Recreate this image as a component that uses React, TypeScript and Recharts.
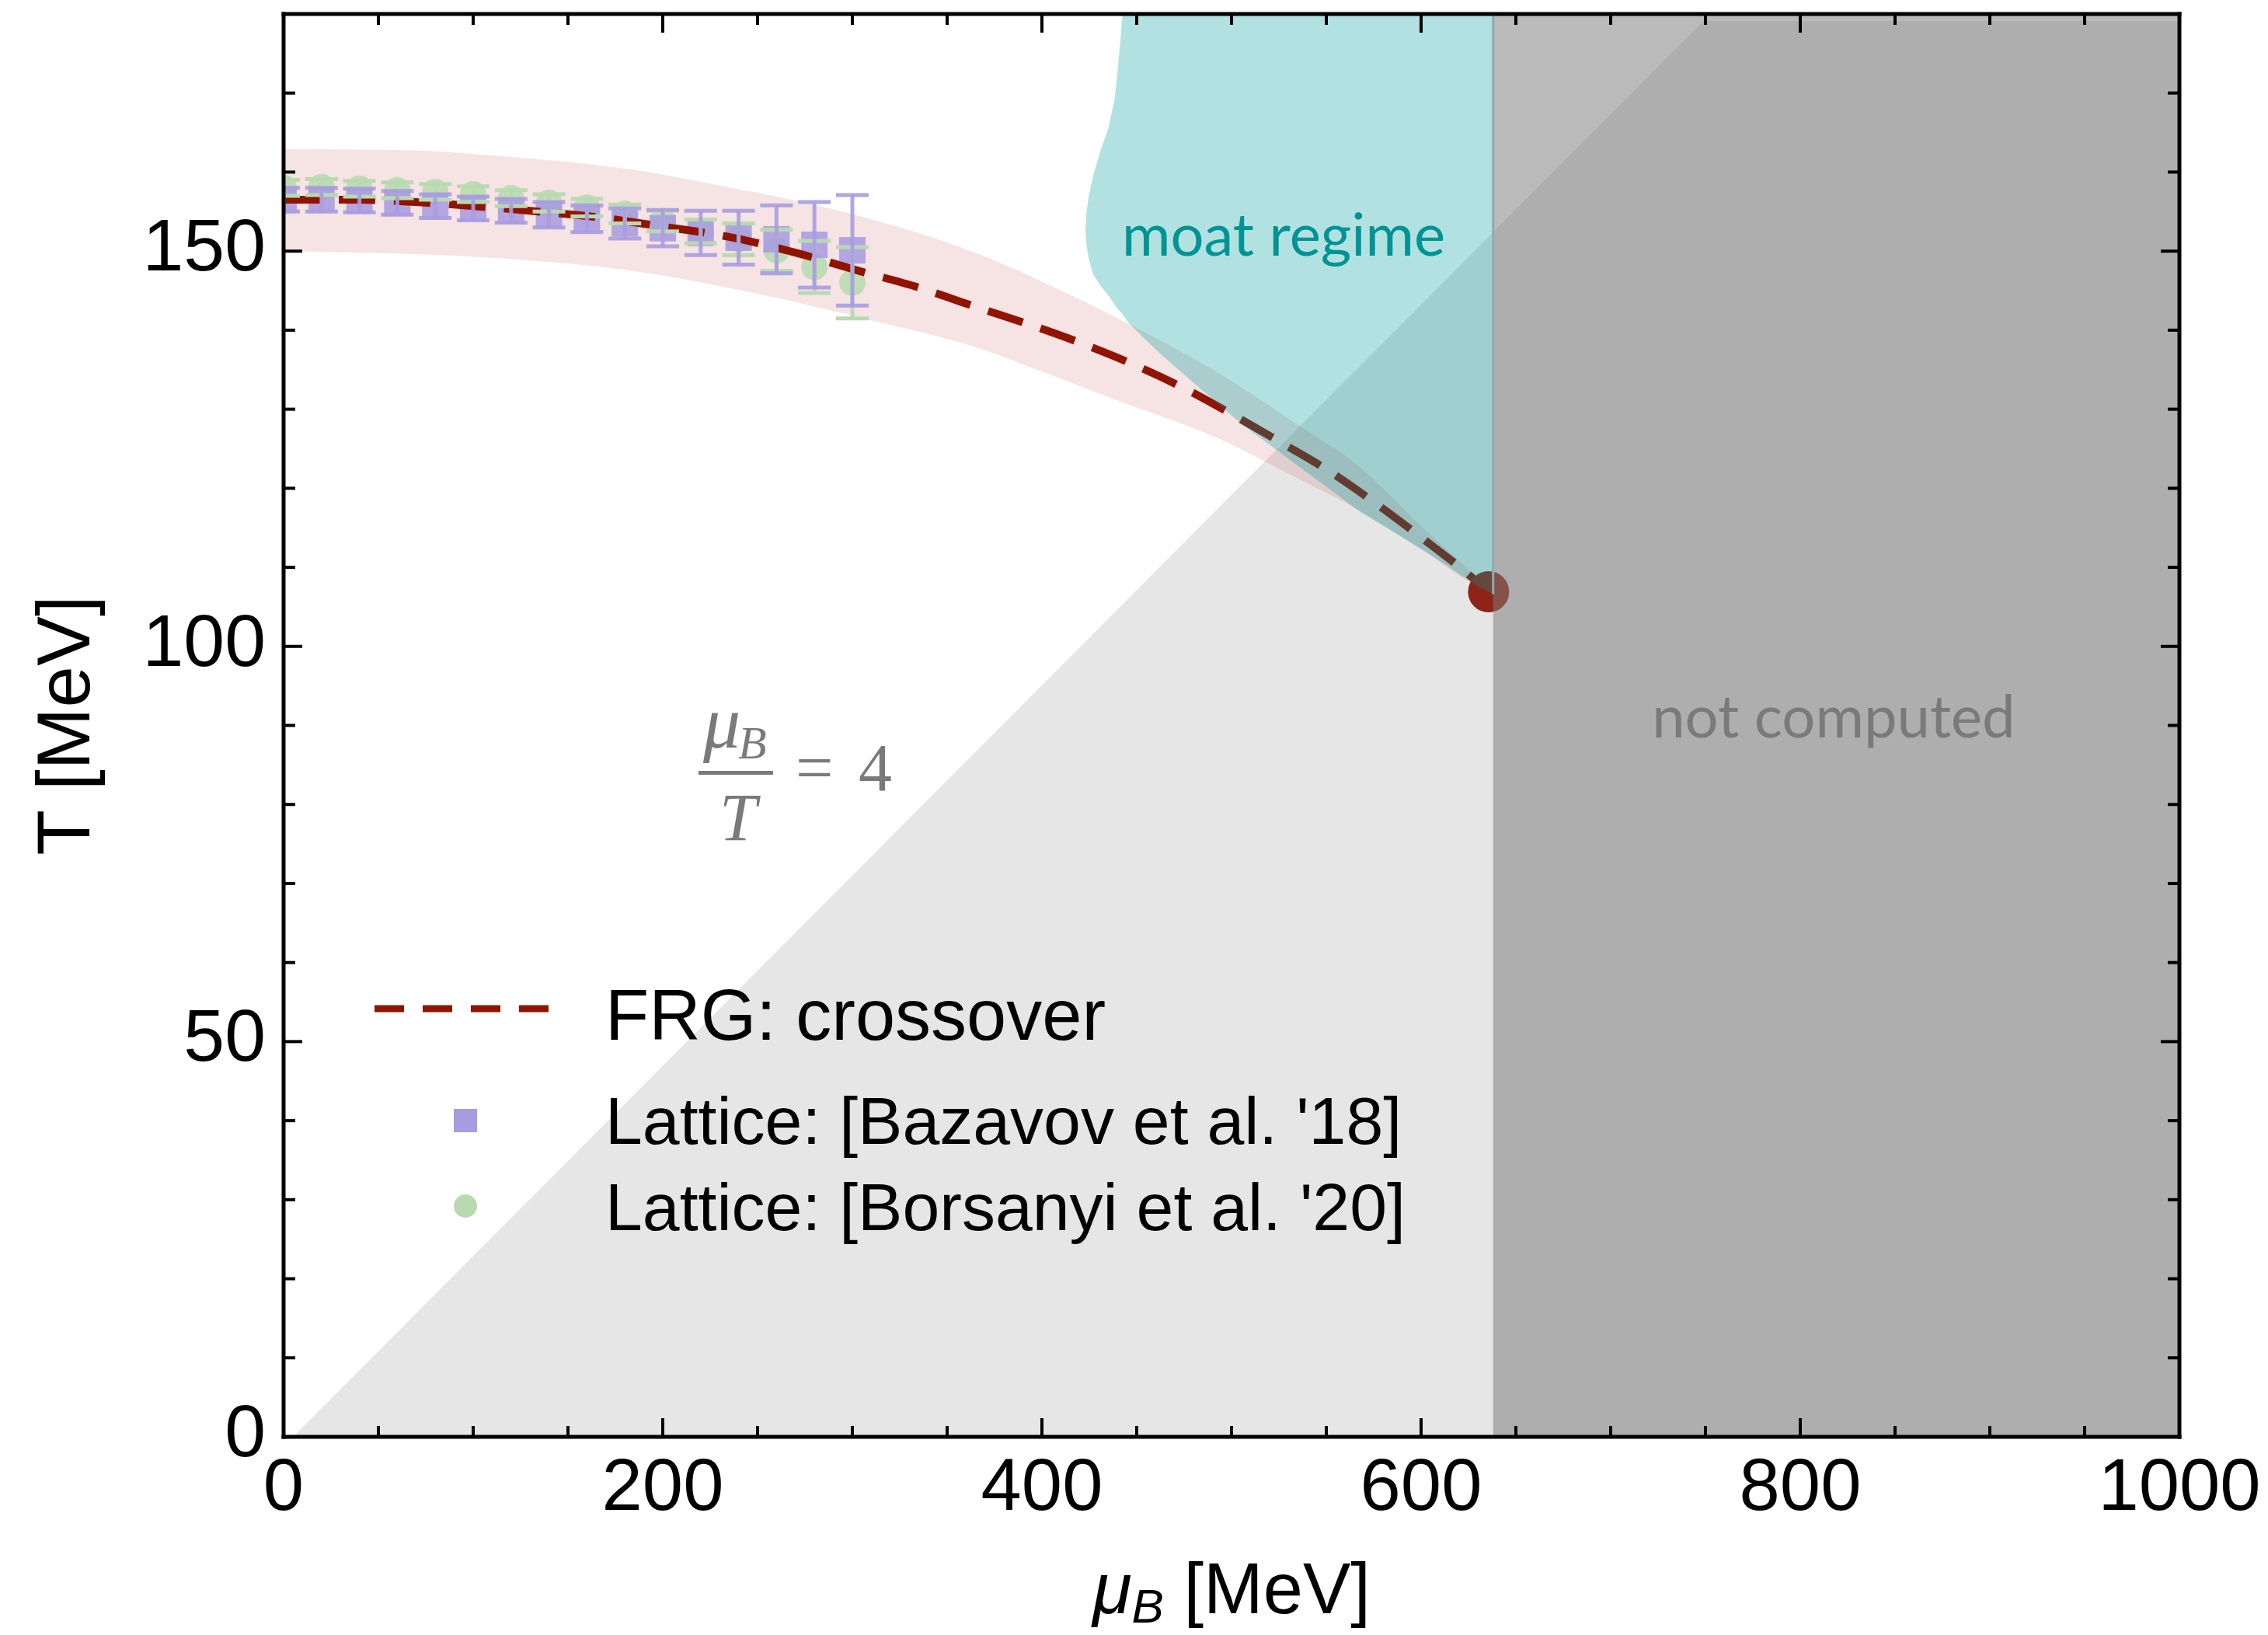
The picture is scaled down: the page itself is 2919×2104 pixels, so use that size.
import {
  Area,
  ComposedChart,
  ErrorBar,
  Legend,
  Line,
  Scatter,
  XAxis,
  YAxis,
} from "recharts";

const W = 2919;
const H = 2104;

const SANS = '"Liberation Sans", Arial, Helvetica, sans-serif';
const SERIF = '"Liberation Serif", "Times New Roman", serif';
const HUMANIST = 'Lato, "Open Sans", sans-serif';

const FRG_RED = "#8f1404";
const CEP_RED = "#8e2418";
const PURPLE = "#a89ce0";
const GREEN = "#b9dab0";
const TEAL = "#009a9a";
const TEAL_TEXT = "#009494";
const GREY_TEXT = "#7a7a7a";

// axis ticks
const xTicks = [0, 50, 100, 150, 200, 250, 300, 350, 400, 450, 500, 550, 600, 650, 700, 750, 800, 850, 900, 950, 1000];
const yTicks = [0, 10, 20, 30, 40, 50, 60, 70, 80, 90, 100, 110, 120, 130, 140, 150, 160, 170];

// lattice points (mu_B in MeV)
const latticeMu = [0, 20, 40, 60, 80, 100, 120, 140, 160, 180, 200, 220, 240, 260, 280, 300];
const bazavovT = [156.5, 156.5, 156.4, 156.1, 155.7, 155.4, 155.1, 154.6, 154.1, 153.5, 152.9, 152.3, 151.7, 151.5, 150.8, 150.1];
const bazavovErr = [1.5, 1.5, 1.5, 1.5, 1.5, 1.5, 1.5, 1.6, 1.7, 1.9, 2.3, 2.8, 3.4, 4.3, 5.4, 7.0];
const borsanyiT = [158.0, 158.1, 157.9, 157.7, 157.5, 157.2, 156.7, 156.1, 155.5, 154.7, 153.8, 152.5, 151.5, 150.1, 148.0, 146.0];
const borsanyiErr = [1.0, 1.0, 1.0, 1.0, 1.0, 1.0, 1.0, 1.1, 1.1, 1.2, 1.3, 1.5, 2.0, 2.6, 3.3, 4.5];

// FRG crossover line
const frgMu = [0, 40, 70, 100, 130, 165, 200, 235, 270, 305, 335, 357, 418, 446, 473, 500, 526, 552, 576, 600, 623, 635.6];
const frgT = [156.5, 156.5, 156.2, 155.7, 155.1, 154.3, 153.1, 151.8, 149.8, 147.4, 145.4, 143.6, 138.6, 135.9, 132.9, 129.4, 125.8, 122.1, 118.1, 113.8, 109.5, 106.9];

// critical end point
const cepMu = [635.6];
const cepT = [106.9];

// FRG uncertainty band
const bandMu = [0, 60, 120, 190, 230, 260, 306, 367, 404, 440, 495, 532, 568, 600, 630, 637];
const bandLo = [150.0, 149.7, 149.0, 147.3, 145.6, 144.1, 141.5, 137.7, 134.4, 131.1, 126.1, 121.6, 117.1, 112.3, 107.6, 106.9];
const bandHi = [162.9, 162.8, 161.9, 160.1, 158.3, 156.9, 154.3, 149.6, 145.7, 141.5, 134.3, 128.5, 122.6, 115.2, 108.6, 106.9];

// moat regime outline
const moatMu = [423, 423.4, 424.5, 427, 431, 435, 438.4, 440, 441.5, 442.5, 445.8, 455, 464, 485, 506, 537, 568, 605, 630.6, 638];
const moatLo = [152.7, 151.0, 149.2, 147.1, 145.6, 144.4, 143.2, 142.7, 142.3, 142.0, 140.9, 138.7, 136.7, 132.3, 128.0, 122.5, 117.0, 111.6, 107.5, 106.6];
const moatHi = [152.7, 154.7, 156.7, 159.5, 162.8, 165.5, 169.3, 173.0, 177.0, 180, 180, 180, 180, 180, 180, 180, 180, 180, 180, 180];

// mu_B / T = 4 wedge
const wedgeMu = [5, 749, 1000];
const wedgeHi = [0, 179.1, 179.1];
const ratio = 4;

// region that was not computed
const notComputedMu = [638, 1000];
const notComputedHi = [180, 180];
const moatEdgeT = [106.6, 180];

const legendLabels = ["FRG: crossover", "Lattice: [Bazavov et al. '18]", "Lattice: [Borsanyi et al. '20]"];

const bazavovData = latticeMu.map((mu, i) => ({ mu, T: bazavovT[i], err: bazavovErr[i] }));
const borsanyiData = latticeMu.map((mu, i) => ({ mu, T: borsanyiT[i], err: borsanyiErr[i] }));
const frgData = frgMu.map((mu, i) => ({ mu, T: frgT[i] }));
const cepData = cepMu.map((mu, i) => ({ mu, T: cepT[i] }));
const bandData = bandMu.map((mu, i) => ({ mu, range: [bandLo[i], bandHi[i]] }));
const moatData = moatMu.map((mu, i) => ({ mu, range: [moatLo[i], moatHi[i]] }));
const wedgeData = wedgeMu.map((mu, i) => ({ mu, range: [0, wedgeHi[i]] }));
const notComputedData = notComputedMu.map((mu, i) => ({ mu, range: [0, notComputedHi[i]] }));
const moatEdgeData = moatEdgeT.map((T) => ({ mu: notComputedMu[0], T }));

// annotation anchors
const moatLabelAt = [{ mu: 527.5, T: 149.4 }];
const notComputedLabelAt = [{ mu: 817.6, T: 88.5 }];
const ratioLabelAt = [{ mu: 238.5, T: 84.0 }];

const BottomTick = (p: any) => {
  const v = p.payload.value;
  const major = v % 200 === 0;
  return (
    <g>
      <line x1={p.x} x2={p.x} y1={p.y} y2={p.y - (major ? 24 : 14)} stroke="#000" strokeWidth={4} />
      {major && (
        <text x={p.x} y={p.y + 94} textAnchor="middle" fontSize={94} fontFamily={SANS} fill="#000">
          {v}
        </text>
      )}
    </g>
  );
};

const TopTick = (p: any) => {
  const major = p.payload.value % 200 === 0;
  return <line x1={p.x} x2={p.x} y1={p.y} y2={p.y + (major ? 24 : 14)} stroke="#000" strokeWidth={4} />;
};

const LeftTick = (p: any) => {
  const v = p.payload.value;
  const major = v % 50 === 0;
  return (
    <g>
      <line x1={p.x} x2={p.x + (major ? 24 : 15)} y1={p.y} y2={p.y} stroke="#000" strokeWidth={4} />
      {major && (
        <text x={p.x - 23} y={p.y + 25} textAnchor="end" fontSize={95} fontFamily={SANS} fill="#000">
          {v}
        </text>
      )}
    </g>
  );
};

const RightTick = (p: any) => {
  const major = p.payload.value % 50 === 0;
  return <line x1={p.x} x2={p.x - (major ? 24 : 15)} y1={p.y} y2={p.y} stroke="#000" strokeWidth={4} />;
};

const XTitle = (p: any) => {
  const vb = p.viewBox;
  return (
    <text x={vb.x + vb.width / 2} y={vb.y + 227} textAnchor="middle" fontSize={92} fontFamily={SANS} fill="#000">
      <tspan fontStyle="italic">μ</tspan>
      <tspan fontStyle="italic" fontSize={62} dy={12}>B</tspan>
      <tspan dy={-12}> [MeV]</tspan>
    </text>
  );
};

const YTitle = (p: any) => {
  const vb = p.viewBox;
  const cx = vb.x + vb.width - 250;
  const cy = vb.y + vb.height / 2;
  return (
    <text x={cx} y={cy} transform={`rotate(-90 ${cx} ${cy})`} textAnchor="middle" fontSize={96} fontFamily={SANS} fill="#000">
      T [MeV]
    </text>
  );
};

// lattice markers; the first point also defines a clip at the plot's left edge
const plotLeftClip = (p: any) =>
  p.payload && p.payload.mu === latticeMu[0] ? (
    <defs>
      <clipPath id="lattice-clip" clipPathUnits="userSpaceOnUse">
        <rect x={p.cx} y={0} width={W} height={H} />
      </clipPath>
    </defs>
  ) : null;

const squareShape = (p: any) => (
  <rect x={p.cx - 17} y={p.cy - 17} width={34} height={34} fill={PURPLE} fillOpacity={0.88} />
);
const circleShape = (p: any) => (
  <g>
    {plotLeftClip(p)}
    <circle cx={p.cx} cy={p.cy} r={17} fill={GREEN} fillOpacity={0.9} />
  </g>
);
const cepShape = (p: any) => <circle cx={p.cx} cy={p.cy} r={26.5} fill={CEP_RED} />;

const textShape = (label: string, color: string) => (p: any) => (
  <text x={p.cx} y={p.cy} textAnchor="middle" fontSize={76} fontFamily={HUMANIST} fill={color}>
    {label}
  </text>
);

const ratioShape = (p: any) => (
  <g fill={GREY_TEXT} fontFamily={SERIF}>
    <text x={p.cx - 42} y={p.cy - 33} fontSize={96} fontStyle="italic">μ</text>
    <text x={p.cx + 3} y={p.cy - 19} fontSize={60} fontStyle="italic">B</text>
    <line x1={p.cx - 48} x2={p.cx + 48} y1={p.cy} y2={p.cy} stroke={GREY_TEXT} strokeWidth={5} />
    <text x={p.cx + 3} y={p.cy + 86} fontSize={86} fontStyle="italic" textAnchor="middle">T</text>
    <text x={p.cx + 77} y={p.cy + 22} fontSize={86}>=</text>
    <text x={p.cx + 158} y={p.cy + 22} fontSize={86}>{ratio}</text>
  </g>
);

const renderLegend = () => (
  <svg width={1500} height={420} style={{ display: "block", overflow: "visible" }}>
    <line x1={12} x2={237} y1={68} y2={68} stroke={FRG_RED} strokeWidth={9} strokeDasharray="38 24" />
    <text x={309} y={108} fontSize={92} fontFamily={SANS} fill="#000">{legendLabels[0]}</text>
    <rect x={114} y={197} width={30} height={30} fill={PURPLE} />
    <text x={309} y={242} fontSize={86} fontFamily={SANS} fill="#000">{legendLabels[1]}</text>
    <circle cx={129} cy={322} r={15} fill={GREEN} />
    <text x={309} y={353} fontSize={86} fontFamily={SANS} fill="#000">{legendLabels[2]}</text>
  </svg>
);

const frame = { stroke: "#000", strokeWidth: 5, strokeLinecap: "square" as const };

export default function App() {
  return (
    <div style={{ position: "absolute", left: 0, top: 0, width: W, height: H, background: "#fff" }}>
      <style>{".lattice, .lattice .recharts-errorBars, .recharts-errorBars { clip-path: url(#lattice-clip); }"}</style>
      <ComposedChart width={W} height={H} margin={{ top: 17, right: 113, bottom: 254, left: 364 }}>
        <Area
          xAxisId="b"
          yAxisId="l"
          data={wedgeData}
          dataKey="range"
          type="linear"
          stroke="none"
          fill="#e6e6e6"
          fillOpacity={1}
          dot={false}
          activeDot={false}
          isAnimationActive={false}
          zIndex={10}
        />
        <Area
          xAxisId="b"
          yAxisId="l"
          data={bandData}
          dataKey="range"
          type="monotone"
          stroke="none"
          fill="#c04040"
          fillOpacity={0.15}
          dot={false}
          activeDot={false}
          isAnimationActive={false}
          zIndex={20}
        />
        <Scatter
          xAxisId="b"
          yAxisId="l"
          className="lattice"
          data={borsanyiData}
          dataKey="T"
          shape={circleShape}
          isAnimationActive={false}
          zIndex={30}
        >
          <ErrorBar dataKey="err" direction="y" width={21} strokeWidth={5} stroke={GREEN} isAnimationActive={false} />
        </Scatter>
        <Scatter
          xAxisId="b"
          yAxisId="l"
          className="lattice"
          data={bazavovData}
          dataKey="T"
          shape={squareShape}
          isAnimationActive={false}
          zIndex={40}
        >
          <ErrorBar dataKey="err" direction="y" width={21} strokeWidth={5} stroke={PURPLE} strokeOpacity={0.9} isAnimationActive={false} />
        </Scatter>
        <Line
          xAxisId="b"
          yAxisId="l"
          data={frgData}
          dataKey="T"
          type="monotone"
          stroke={FRG_RED}
          strokeWidth={10}
          strokeDasharray="47 24"
          dot={false}
          activeDot={false}
          isAnimationActive={false}
          zIndex={50}
        />
        <Scatter
          xAxisId="b"
          yAxisId="l"
          data={cepData}
          dataKey="T"
          shape={cepShape}
          isAnimationActive={false}
          zIndex={60}
        />
        <Area
          xAxisId="b"
          yAxisId="l"
          data={moatData}
          dataKey="range"
          type="linear"
          stroke="none"
          fill={TEAL}
          fillOpacity={0.3}
          dot={false}
          activeDot={false}
          isAnimationActive={false}
          zIndex={70}
        />
        <Area
          xAxisId="t"
          yAxisId="r"
          data={notComputedData}
          dataKey="range"
          type="linear"
          stroke="none"
          fill="#7a7a7a"
          fillOpacity={0.52}
          dot={false}
          activeDot={false}
          isAnimationActive={false}
          zIndex={80}
        />
        <Line
          xAxisId="b"
          yAxisId="l"
          data={moatEdgeData}
          dataKey="T"
          type="linear"
          stroke="#8fabab"
          strokeWidth={3}
          dot={false}
          activeDot={false}
          isAnimationActive={false}
          zIndex={85}
        />

        <XAxis
          xAxisId="b"
          dataKey="mu"
          type="number"
          domain={[0, 1000]}
          allowDataOverflow
          ticks={xTicks}
          interval={0}
          height={1}
          tickSize={0}
          tickMargin={0}
          tickLine={false}
          axisLine={frame}
          tick={(p: any) => <BottomTick {...p} />}
          label={{ content: (p: any) => <XTitle {...p} /> }}
        />
        <XAxis
          xAxisId="t"
          orientation="top"
          dataKey="mu"
          type="number"
          domain={[0, 1000]}
          allowDataOverflow
          ticks={xTicks}
          interval={0}
          height={1}
          tickSize={0}
          tickMargin={0}
          tickLine={false}
          axisLine={frame}
          tick={(p: any) => <TopTick {...p} />}
        />
        <YAxis
          yAxisId="l"
          type="number"
          domain={[0, 180]}
          allowDataOverflow
          ticks={yTicks}
          interval={0}
          width={1}
          tickSize={0}
          tickMargin={0}
          tickLine={false}
          axisLine={frame}
          tick={(p: any) => <LeftTick {...p} />}
          label={{ content: (p: any) => <YTitle {...p} /> }}
        />
        <YAxis
          yAxisId="r"
          orientation="right"
          type="number"
          domain={[0, 180]}
          allowDataOverflow
          ticks={yTicks}
          interval={0}
          width={1}
          tickSize={0}
          tickMargin={0}
          tickLine={false}
          axisLine={frame}
          tick={(p: any) => <RightTick {...p} />}
        />

        <Scatter
          xAxisId="b"
          yAxisId="l"
          data={moatLabelAt}
          dataKey="T"
          shape={textShape("moat regime", TEAL_TEXT)}
          isAnimationActive={false}
          zIndex={2000}
        />
        <Scatter
          xAxisId="b"
          yAxisId="l"
          data={notComputedLabelAt}
          dataKey="T"
          shape={textShape("not computed", GREY_TEXT)}
          isAnimationActive={false}
          zIndex={2000}
        />
        <Scatter
          xAxisId="b"
          yAxisId="l"
          data={ratioLabelAt}
          dataKey="T"
          shape={ratioShape}
          isAnimationActive={false}
          zIndex={2000}
        />
        <Legend
          layout="vertical"
          align="center"
          verticalAlign="middle"
          content={renderLegend}
          wrapperStyle={{ position: "absolute", left: 470, top: 1230, width: 1500, height: 420 }}
        />
      </ComposedChart>
    </div>
  );
}
